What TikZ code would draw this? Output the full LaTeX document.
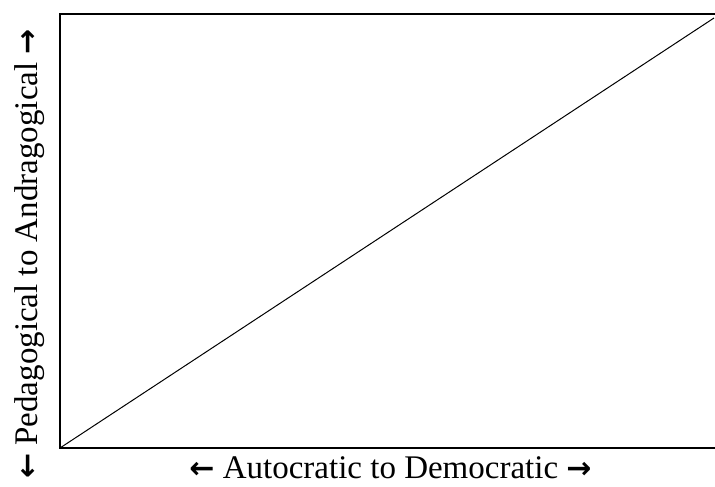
\documentclass[tikz,border=0pt]{standalone}
\usepackage{fontspec}
\setmainfont{Liberation Serif}
\newfontfamily\arrowfont{DejaVu Sans}
\newcommand{\larr}{{\arrowfont\bfseries\fontsize{30}{33}\selectfont ←}}
\newcommand{\rarr}{{\arrowfont\bfseries\fontsize{30}{33}\selectfont →}}
\begin{document}
\begin{tikzpicture}[x=1pt,y=1pt,
  frame/.style={line width=2pt},
  diag/.style={line width=1pt},
  axislabel/.style={font=\fontsize{33}{38}\selectfont, inner sep=0pt}]
\useasboundingbox (0,0) rectangle (715,487);
\coordinate (tl) at (60,473);
\coordinate (bl) at (60,39);
\coordinate (tr) at (715,473);
\coordinate (br) at (715,39);
\coordinate (de) at (714,469);
\draw[frame] (tr) -- (tl) -- (bl) -- (br);
\draw[diag] (bl) -- (de);
\node[axislabel, anchor=base, text depth=0pt] (xl) at (390.5,8) {\larr{} Autocratic to Democratic \rarr};
\node[axislabel, anchor=base, rotate=90] (yl) at (37,233) {\larr{} Pedagogical to Andragogical \rarr};
\end{tikzpicture}
\end{document}
